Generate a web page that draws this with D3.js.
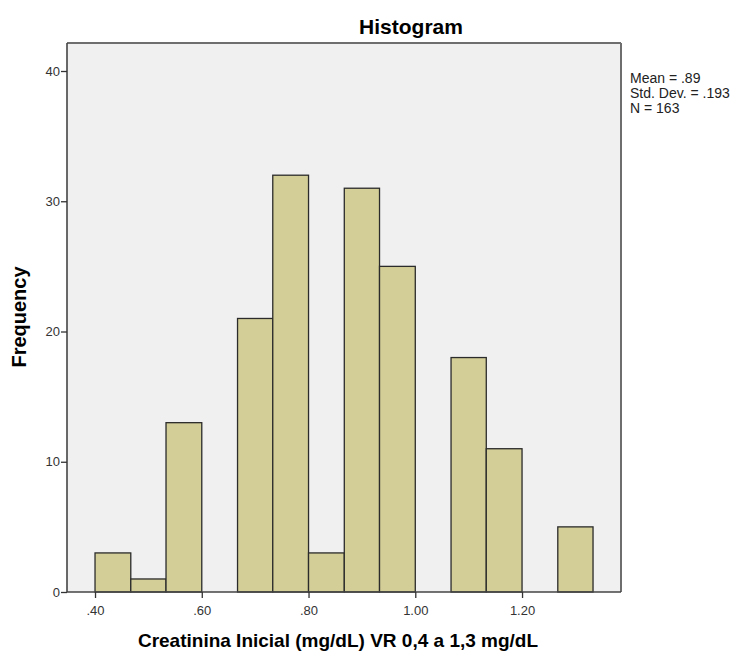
<!DOCTYPE html>
<html>
<head>
<meta charset="utf-8">
<script src="https://cdn.jsdelivr.net/npm/d3@7"></script>
<style>
  body { margin: 0; background: #fff; }
  text { font-family: "Liberation Sans", Arial, sans-serif; }
</style>
</head>
<body>
<div id="chart"></div>
<script>
// Bin edges and counts
const binStart = [0.400, 0.467, 0.533, 0.600, 0.667, 0.733, 0.800, 0.867, 0.933, 1.000, 1.067, 1.133, 1.200, 1.267];
const binEnd   = [0.467, 0.533, 0.600, 0.667, 0.733, 0.800, 0.867, 0.933, 1.000, 1.067, 1.133, 1.200, 1.267, 1.333];
const counts   = [3, 1, 13, 0, 21, 32, 3, 31, 25, 0, 18, 11, 0, 5];
const xTicks = [0.4, 0.6, 0.8, 1.0, 1.2];
const yTicks = [0, 10, 20, 30, 40];
const statsLines = ["Mean = .89", "Std. Dev. = .193", "N = 163"];

const width = 736, height = 653;
const margin = {top: 43, right: 115, bottom: 61, left: 67};

const svg = d3.select("#chart")
  .append("svg")
    .attr("width", width)
    .attr("height", height);

// Scales
const x = d3.scaleLinear()
    .domain([0.3475, 1.3854])
    .range([margin.left, width - margin.right]);
const y = d3.scaleLinear()
    .domain([0, 42.15])
    .range([height - margin.bottom, margin.top]);

const plotW = width - margin.right - margin.left,
      plotH = height - margin.bottom - margin.top;

// Plot background
svg.append("rect")
  .attr("x", margin.left)
  .attr("y", margin.top)
  .attr("width", plotW)
  .attr("height", plotH)
  .attr("fill", "#eff0ef");

// Bars
const bins = counts.map((c, i) => ({x0: binStart[i], x1: binEnd[i], n: c}));
svg.append("g")
  .selectAll("rect")
  .data(bins.filter(d => d.n > 0))
  .join("rect")
    .attr("x", d => x(d.x0))
    .attr("y", d => y(d.n))
    .attr("width", d => x(d.x1) - x(d.x0))
    .attr("height", d => y(0) - y(d.n))
    .attr("fill", "#d3ce97")
    .attr("stroke", "#2b2b2b")
    .attr("stroke-width", 1.3);

// Frame: top/right lighter, left/bottom dark
svg.append("line")
  .attr("x1", margin.left).attr("x2", width - margin.right)
  .attr("y1", margin.top).attr("y2", margin.top)
  .attr("stroke", "#6e6e6e").attr("stroke-width", 2);
svg.append("line")
  .attr("x1", width - margin.right).attr("x2", width - margin.right)
  .attr("y1", margin.top).attr("y2", height - margin.bottom)
  .attr("stroke", "#6e6e6e").attr("stroke-width", 2);

// Axes
const xAxis = svg.append("g")
  .attr("transform", `translate(0,${height - margin.bottom})`)
  .call(d3.axisBottom(x).tickValues(xTicks).tickSize(6).tickSizeOuter(0)
    .tickFormat(d => d < 1 ? d3.format(".2f")(d).replace(/^0/, "") : d3.format(".2f")(d)));
const yAxis = svg.append("g")
  .attr("transform", `translate(${margin.left},0)`)
  .call(d3.axisLeft(y).tickValues(yTicks).tickSize(6).tickSizeOuter(0));

[xAxis, yAxis].forEach(g => {
  g.select(".domain").attr("stroke", "#444").attr("stroke-width", 1.6);
  g.selectAll(".tick line").attr("stroke", "#333").attr("stroke-width", 1.3);
  g.selectAll(".tick text").attr("fill", "#333").style("font-size", "13px");
});
xAxis.select(".domain").attr("d", `M${margin.left},0H${width - margin.right}`);
yAxis.select(".domain").attr("d", `M0,${margin.top}V${height - margin.bottom}`);
xAxis.selectAll(".tick text").attr("dy", "1.1em");
yAxis.selectAll(".tick text").attr("x", -7);

// Title and axis labels
svg.append("text")
  .attr("x", 411).attr("y", 34)
  .attr("text-anchor", "middle")
  .style("font-size", "21px").style("font-weight", "bold")
  .text("Histogram");

svg.append("text")
  .attr("x", 338).attr("y", 647)
  .attr("text-anchor", "middle")
  .style("font-size", "19px").style("font-weight", "bold")
  .text("Creatinina Inicial (mg/dL) VR 0,4 a 1,3 mg/dL");

svg.append("text")
  .attr("transform", "translate(26,317) rotate(-90)")
  .attr("text-anchor", "middle")
  .style("font-size", "20px").style("font-weight", "bold")
  .text("Frequency");

// Stats box
svg.append("g")
  .selectAll("text")
  .data(statsLines)
  .join("text")
    .attr("x", 630)
    .attr("y", (d, i) => 83 + i * 15)
    .style("font-size", "14px")
    .attr("fill", "#222")
    .text(d => d);
</script>
</body>
</html>
